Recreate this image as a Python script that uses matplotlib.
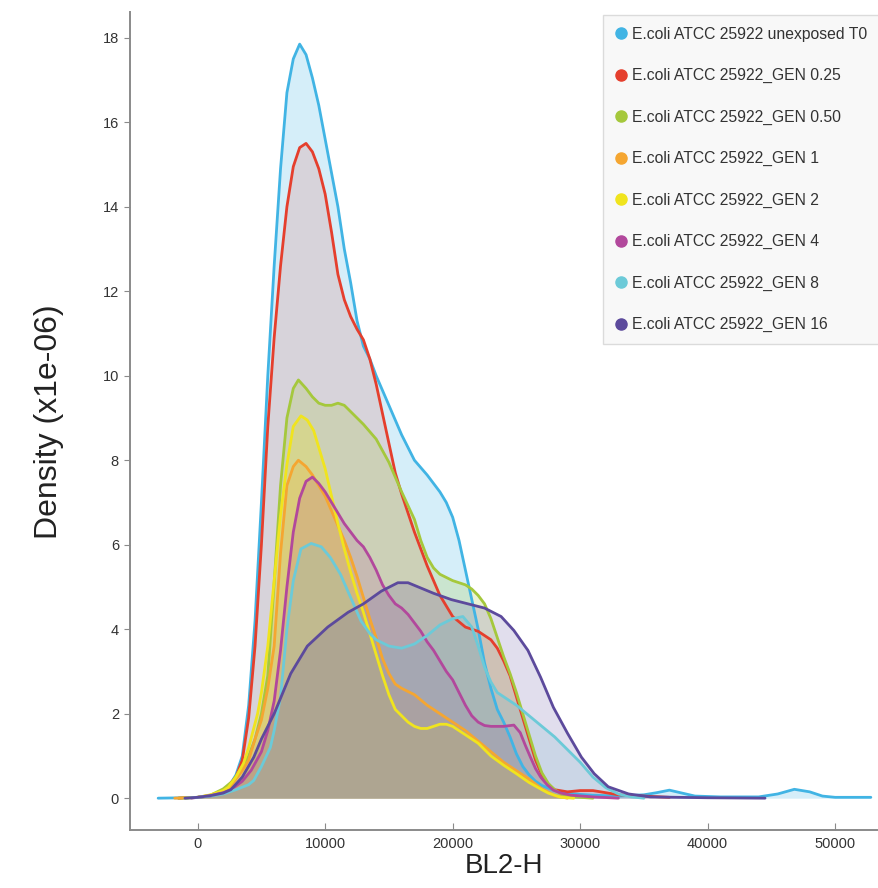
import matplotlib.pyplot as plt
from matplotlib.lines import Line2D

labels = [
    "E.coli ATCC 25922 unexposed T0",
    "E.coli ATCC 25922_GEN 0.25",
    "E.coli ATCC 25922_GEN 0.50",
    "E.coli ATCC 25922_GEN 1",
    "E.coli ATCC 25922_GEN 2",
    "E.coli ATCC 25922_GEN 4",
    "E.coli ATCC 25922_GEN 8",
    "E.coli ATCC 25922_GEN 16",
]
colors = ['#41b4e4', '#e53f2d', '#a5c83c', '#f5a631', '#f0e41e', '#b2489c', '#6ccad8', '#5c4a9c']
fill_alpha = [0.22, 0.15, 0.22, 0.22, 0.25, 0.16, 0.18, 0.18]

# density curves (x = BL2-H, y = density x1e-06)
t0_x = [-3100, -1000, 0, 1000, 2000, 2500, 3000, 3500, 4000, 4500, 5000, 5500, 6000, 6500,
        7000, 7500, 8000, 8500, 9000, 9500, 10000, 10500, 11000, 11500, 12000, 12500, 13000,
        13500, 14000, 15000, 16000, 17000, 18000, 19000, 19500, 20000, 20500, 21000, 21500,
        22000, 22500, 23000, 23500, 24000, 24500, 25000, 25500, 26000, 26500, 27000, 28000,
        29000, 30000, 31000, 33000, 35000, 36000, 37000, 38000, 39000, 41000, 44000, 45500,
        46800, 48000, 49000, 50000, 52800]
t0_y = [0.0, 0.01, 0.02, 0.05, 0.15, 0.3, 0.55, 1.0, 2.2, 4.2, 7.0, 10.0, 12.6, 14.9,
        16.7, 17.5, 17.85, 17.6, 17.05, 16.4, 15.6, 14.8, 14.0, 13.0, 12.2, 11.3, 10.7,
        10.4, 10.0, 9.3, 8.6, 8.0, 7.65, 7.25, 7.0, 6.65, 6.1, 5.4, 4.7,
        4.0, 3.2, 2.6, 2.1, 1.8, 1.45, 1.05, 0.75, 0.55, 0.4, 0.3, 0.18,
        0.12, 0.09, 0.07, 0.05, 0.08, 0.13, 0.19, 0.12, 0.05, 0.03, 0.03, 0.1,
        0.21, 0.15, 0.05, 0.02, 0.02]

gen025_x = [-1500, 0, 1000, 2000, 3000, 3500, 4000, 4500, 5000, 5500, 6000, 6500, 7000, 7500,
            8000, 8500, 9000, 9500, 10000, 10500, 11000, 11500, 12000, 12500, 13000, 13500,
            14000, 14500, 15000, 15500, 16000, 17000, 18000, 19000, 20000, 21000, 22000,
            23000, 23500, 24000, 24500, 25000, 25500, 26000, 26500, 27000, 27500, 28000,
            29000, 30000, 31000, 32000, 33000, 35000, 37000]
gen025_y = [0.0, 0.02, 0.05, 0.15, 0.5, 0.9, 1.9, 3.6, 6.0, 8.8, 10.9, 12.6, 14.0, 14.95,
            15.4, 15.5, 15.3, 14.9, 14.3, 13.4, 12.4, 11.8, 11.4, 11.1, 10.85, 10.4,
            9.8, 9.1, 8.4, 7.7, 7.2, 6.3, 5.5, 4.8, 4.3, 4.05, 3.95,
            3.75, 3.55, 3.25, 2.9, 2.4, 1.9, 1.4, 0.9, 0.55, 0.32, 0.2,
            0.15, 0.18, 0.18, 0.13, 0.08, 0.05, 0.02]

gen050_x = [-1500, 0, 1000, 2000, 2800, 3500, 4000, 4500, 5000, 5500, 6000, 6500, 7000, 7500,
            7900, 8500, 9000, 9500, 10000, 10500, 11000, 11500, 12000, 13000, 14000, 15000,
            16000, 17000, 17500, 18000, 18500, 19000, 20000, 21000, 21500, 22000, 22500,
            23000, 23500, 24000, 24500, 25000, 25500, 26000, 26500, 27000, 27500, 28000,
            28500, 29500, 31000]
gen050_y = [0.0, 0.02, 0.07, 0.22, 0.42, 0.75, 1.0, 1.4, 2.0, 2.9, 5.1, 7.4, 9.0, 9.7,
            9.9, 9.7, 9.5, 9.35, 9.3, 9.3, 9.35, 9.3, 9.15, 8.85, 8.5, 7.95,
            7.25, 6.6, 6.1, 5.7, 5.45, 5.3, 5.15, 5.05, 4.95, 4.8, 4.6,
            4.25, 3.8, 3.35, 2.95, 2.5, 2.0, 1.5, 1.0, 0.6, 0.35, 0.2,
            0.1, 0.03, 0.0]

gen1_x = [-1800, -1000, 0, 1000, 2000, 2500, 3000, 3500, 4000, 4500, 5000, 5500, 6000, 6500,
          7000, 7500, 7900, 8500, 9000, 9500, 10000, 10500, 11000, 11500, 12000, 12500,
          13000, 13500, 14000, 14500, 15000, 15500, 16000, 17000, 18000, 19000, 20000,
          21000, 22000, 23000, 24000, 25000, 26000, 27000, 28000, 29000]
gen1_y = [0.0, 0.01, 0.02, 0.07, 0.15, 0.25, 0.45, 0.65, 0.9, 1.4, 1.85, 2.6, 3.6, 5.8,
          7.4, 7.85, 8.0, 7.85, 7.65, 7.4, 7.15, 6.8, 6.45, 6.1, 5.7, 5.25,
          4.75, 4.25, 3.8, 3.3, 2.95, 2.7, 2.6, 2.45, 2.2, 2.0, 1.8,
          1.6, 1.35, 1.1, 0.85, 0.65, 0.45, 0.22, 0.06, 0.0]

gen2_x = [-1000, 0, 1000, 2000, 2400, 3000, 3600, 4000, 4700, 5000, 5500, 6000, 6500, 7000,
          7500, 8100, 8600, 9100, 9500, 10000, 10500, 11000, 11500, 12000, 12500, 13000,
          13500, 14000, 14500, 15000, 15500, 16000, 16500, 17000, 17500, 18000, 18500,
          19000, 19500, 20000, 20500, 21000, 21500, 22000, 23000, 24000, 25000, 26000,
          27000, 27500, 28500, 29500]
gen2_y = [0.0, 0.02, 0.08, 0.18, 0.26, 0.5, 0.83, 1.2, 2.0, 2.5, 3.6, 5.15, 6.7, 7.9,
          8.8, 9.05, 8.95, 8.7, 8.3, 7.8, 7.15, 6.5, 5.9, 5.35, 4.85, 4.4,
          3.9, 3.4, 2.9, 2.45, 2.1, 1.95, 1.8, 1.7, 1.65, 1.65, 1.7,
          1.75, 1.75, 1.7, 1.6, 1.5, 1.4, 1.3, 1.0, 0.78, 0.58, 0.37,
          0.2, 0.12, 0.02, 0.0]

gen4_x = [-500, 0, 1000, 2000, 2600, 3500, 4200, 5000, 5500, 6000, 6500, 7000, 7500, 8000,
          8500, 9000, 9500, 10000, 10500, 11000, 11500, 12000, 12500, 13000, 13500, 14000,
          14500, 15000, 15500, 16000, 16500, 17000, 17500, 18000, 18500, 19000, 19500,
          20000, 20500, 21000, 21500, 22000, 22500, 23000, 24000, 24800, 25300, 25700,
          26100, 26500, 26900, 27400, 27900, 28500, 29300, 31000, 33000]
gen4_y = [0.0, 0.02, 0.06, 0.13, 0.2, 0.4, 0.66, 1.1, 1.6, 2.3, 3.5, 5.0, 6.3, 7.1,
          7.5, 7.6, 7.45, 7.25, 7.0, 6.75, 6.5, 6.3, 6.1, 5.95, 5.7, 5.4,
          5.05, 4.8, 4.6, 4.5, 4.35, 4.15, 3.95, 3.7, 3.5, 3.25, 3.0,
          2.8, 2.5, 2.2, 1.95, 1.8, 1.72, 1.7, 1.7, 1.73, 1.55, 1.25,
          0.97, 0.7, 0.5, 0.32, 0.19, 0.12, 0.07, 0.03, 0.0]

gen8_x = [-1000, 0, 1000, 2000, 3000, 4000, 4400, 5000, 5700, 6000, 6500, 7000, 7500, 8100,
          8900, 9700, 10400, 11200, 12000, 12800, 13500, 14000, 15000, 16000, 17000, 18000,
          19000, 20000, 20800, 21500, 22000, 22500, 23000, 23500, 24000, 25000, 26000,
          27000, 28000, 29000, 30000, 31000, 32000, 33000, 34000, 35000]
gen8_y = [0.0, 0.02, 0.05, 0.1, 0.2, 0.32, 0.42, 0.75, 1.2, 1.6, 2.4, 4.0, 5.15, 5.9,
          6.03, 5.95, 5.7, 5.3, 4.75, 4.2, 3.9, 3.75, 3.6, 3.55, 3.65, 3.85,
          4.1, 4.25, 4.3, 4.05, 3.6, 3.1, 2.75, 2.5, 2.4, 2.2, 1.95,
          1.7, 1.45, 1.15, 0.85, 0.5, 0.25, 0.1, 0.03, 0.0]

gen16_x = [-1000, 0, 1000, 2000, 2600, 3500, 4400, 5000, 6000, 7300, 8600, 10200, 11800,
           13000, 14400, 15700, 16500, 17300, 18500, 19900, 21200, 22500, 23800, 24800,
           25900, 26900, 27900, 29000, 30100, 31100, 32200, 33800, 35500, 40000, 44500]
gen16_y = [0.0, 0.02, 0.06, 0.12, 0.2, 0.5, 0.97, 1.4, 2.0, 2.95, 3.6, 4.05, 4.4,
           4.6, 4.9, 5.1, 5.1, 5.0, 4.85, 4.7, 4.6, 4.5, 4.3, 3.97,
           3.5, 2.86, 2.15, 1.54, 0.97, 0.58, 0.27, 0.1, 0.03, 0.01, 0.0]

series = [(t0_x, t0_y), (gen025_x, gen025_y), (gen050_x, gen050_y), (gen1_x, gen1_y),
          (gen2_x, gen2_y), (gen4_x, gen4_y), (gen8_x, gen8_y), (gen16_x, gen16_y)]

plt.rcParams['font.family'] = ['Liberation Sans', 'DejaVu Sans']

fig = plt.figure(figsize=(8.79, 8.88), dpi=100)
ax = fig.add_axes([0.148, 0.065, 0.85, 0.921])

for (xs, ys), c, a in zip(series, colors, fill_alpha):
    ax.fill_between(xs, ys, 0, color=c, alpha=a, linewidth=0, zorder=1)
for (xs, ys), c in zip(series, colors):
    ax.plot(xs, ys, color=c, linewidth=2.0, zorder=2, solid_capstyle='round',
            solid_joinstyle='round')

ax.set_xlim(-5300, 53300)
ax.set_ylim(-0.76, 18.6)
ax.set_xticks([0, 10000, 20000, 30000, 40000, 50000])
ax.set_yticks(range(0, 19, 2))

for s in ['top', 'right']:
    ax.spines[s].set_visible(False)
for s in ['left', 'bottom']:
    ax.spines[s].set_color('#8a8a8a')
    ax.spines[s].set_linewidth(1.4)
ax.tick_params(axis='x', direction='in', length=5, color='#8a8a8a', labelsize=10.5,
               labelcolor='#333333', pad=5)
ax.tick_params(axis='y', direction='out', length=4, color='#8a8a8a', labelsize=10.5,
               labelcolor='#333333', pad=4)

ax.set_xlabel('BL2-H', fontsize=20, color='#222222', labelpad=1)
ax.set_ylabel('Density (x1e-06)', fontsize=23, color='#222222', labelpad=28)

handles = [Line2D([], [], marker='o', linestyle='none', markersize=8,
                  markerfacecolor=c, markeredgecolor=c) for c in colors]
leg = fig.legend(handles, labels, loc='upper right', bbox_to_anchor=(1.0, 1 - 15 / 888),
                 fontsize=11.3, frameon=True, fancybox=False, borderaxespad=0,
                 labelspacing=1.68, handlelength=0.8, handletextpad=0.3, borderpad=0.75)
leg.get_frame().set_facecolor('#f7f7f7')
leg.get_frame().set_edgecolor('#d4d4d4')
leg.get_frame().set_linewidth(1.0)
for t in leg.get_texts():
    t.set_color('#333333')

fig.patch.set_facecolor('white')
fig.savefig('out.png', dpi=100, facecolor='white')
